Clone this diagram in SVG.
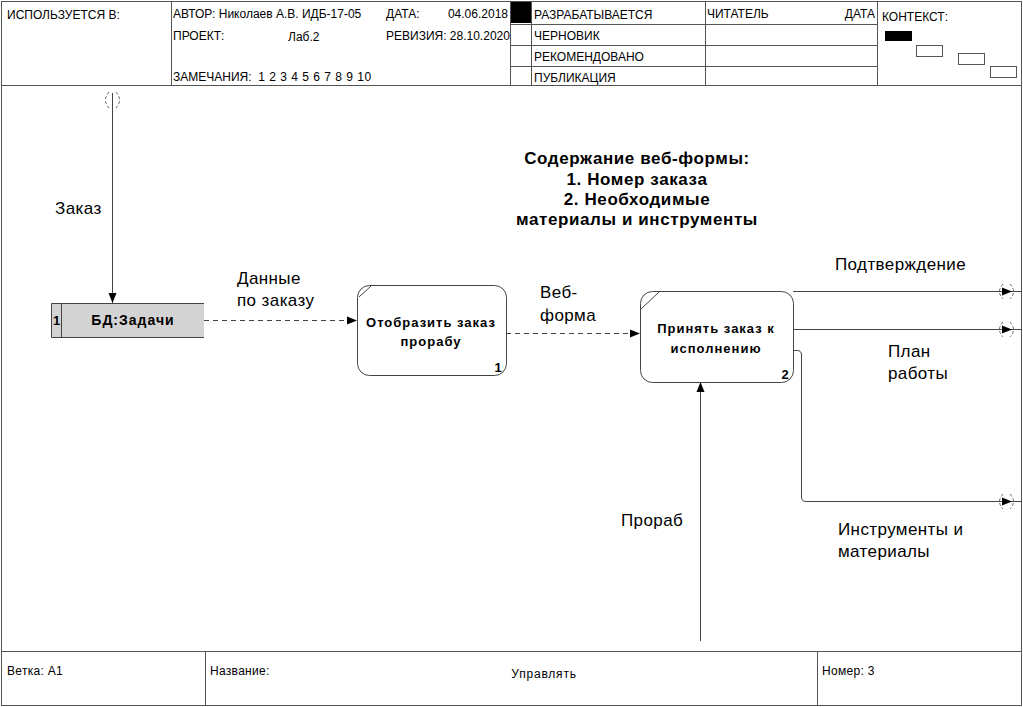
<svg xmlns="http://www.w3.org/2000/svg" width="1023" height="707" viewBox="0 0 1023 707">
<defs>
<style>
.f{fill:none;stroke:#555;stroke-width:1}
.h{font-family:"Liberation Sans",Arial,sans-serif;font-size:12px;fill:#000;white-space:pre}
.lb{font-family:"Liberation Sans",Arial,sans-serif;font-size:17px;letter-spacing:0.4px;fill:#000}
.nb{font-family:"Liberation Sans",Arial,sans-serif;font-size:13px;letter-spacing:1px;font-weight:bold;fill:#000;text-anchor:middle}
.ttl{font-family:"Liberation Sans",Arial,sans-serif;font-size:17px;letter-spacing:0.6px;font-weight:bold;fill:#000;text-anchor:middle}
.ln{fill:none;stroke:#444;stroke-width:1}
.ds{fill:none;stroke:#444;stroke-width:1;stroke-dasharray:5,4}
.tn{fill:none;stroke:#666;stroke-width:1;stroke-dasharray:3,2}
</style>
<marker id="ah" viewBox="0 0 10 10" refX="10" refY="5" markerWidth="10" markerHeight="10" markerUnits="userSpaceOnUse" orient="auto">
<path d="M0,1 L10,5 L0,9 Z" fill="#000"/>
</marker>
</defs>
<rect width="1023" height="707" fill="#fff"/>
<g id="frame">
<rect x="1.5" y="1.5" width="1020" height="704" class="f"/>
<line x1="1" y1="85.5" x2="1022" y2="85.5" class="f"/>
<line x1="171.5" y1="1" x2="171.5" y2="85" class="f"/>
<line x1="510.5" y1="1" x2="510.5" y2="85" class="f"/>
<line x1="531.5" y1="1" x2="531.5" y2="85" class="f"/>
<line x1="705.5" y1="1" x2="705.5" y2="85" class="f"/>
<line x1="877.5" y1="1" x2="877.5" y2="85" class="f"/>
<line x1="531" y1="24.5" x2="877" y2="24.5" class="f"/>
<line x1="531" y1="45.5" x2="877" y2="45.5" class="f"/>
<line x1="531" y1="66.5" x2="877" y2="66.5" class="f"/>
<line x1="510" y1="24.5" x2="531" y2="24.5" class="f"/>
<line x1="510" y1="45.5" x2="531" y2="45.5" class="f"/>
<line x1="510" y1="66.5" x2="531" y2="66.5" class="f"/>
<rect x="511" y="2" width="20" height="21" fill="#000"/>
<rect x="885" y="31" width="27" height="10" fill="#000"/>
<rect x="916.5" y="45.5" width="26" height="11" class="f"/>
<rect x="958.5" y="53.5" width="26" height="11" class="f"/>
<rect x="990.5" y="66.5" width="26" height="11" class="f"/>
<text x="7" y="19" class="h">ИСПОЛЬЗУЕТСЯ В:</text>
<text x="173" y="18" class="h">АВТОР: Николаев А.В. ИДБ-17-05</text>
<text x="386" y="18" class="h">ДАТА:</text>
<text x="508" y="18" class="h" text-anchor="end">04.06.2018</text>
<text x="173" y="40" class="h">ПРОЕКТ:</text>
<text x="288" y="41" class="h" font-size="13px">Лаб.2</text>
<text x="386" y="40" class="h">РЕВИЗИЯ: 28.10.2020</text>
<text x="173" y="81" class="h">ЗАМЕЧАНИЯ:  <tspan letter-spacing="0.5px">1 2 3 4 5 6 7 8 9 10</tspan></text>
<text x="534" y="19" class="h">РАЗРАБАТЫВАЕТСЯ</text>
<text x="534" y="40" class="h">ЧЕРНОВИК</text>
<text x="534" y="61" class="h">РЕКОМЕНДОВАНО</text>
<text x="534" y="82" class="h">ПУБЛИКАЦИЯ</text>
<text x="707" y="18" class="h">ЧИТАТЕЛЬ</text>
<text x="875" y="18" class="h" text-anchor="end">ДАТА</text>
<text x="882" y="21" class="h">КОНТЕКСТ:</text>
<line x1="1" y1="651.5" x2="1022" y2="651.5" class="f"/>
<line x1="205.5" y1="651" x2="205.5" y2="706" class="f"/>
<line x1="817.5" y1="651" x2="817.5" y2="706" class="f"/>
<text x="7" y="675" class="h" letter-spacing="0.3px">Ветка: A1</text>
<text x="210" y="675" class="h" letter-spacing="0.3px">Название:</text>
<text x="544" y="678" class="h" text-anchor="middle" letter-spacing="0.8px">Управлять</text>
<text x="822" y="675" class="h" letter-spacing="0.3px">Номер: 3</text>
</g>
<g id="title">
<text x="637" y="164" class="ttl">Содержание веб-формы:</text>
<text x="637" y="185" class="ttl">1. Номер заказа</text>
<text x="637" y="205" class="ttl">2. Необходимые</text>
<text x="637" y="225" class="ttl">материалы и инструменты</text>
</g>
<g id="connectors">
<path d="M112.5,93 L112.5,303" class="ln" marker-end="url(#ah)"/>
<path d="M109,92 Q102,100 109,108 M116,92 Q123,100 116,108" class="tn"/>
<text x="55" y="214" class="lb">Заказ</text>
<path d="M204,320.5 L357,320.5" class="ds" marker-end="url(#ah)"/>
<text x="237" y="284" class="lb">Данные</text>
<text x="237" y="306" class="lb">по заказу</text>
<path d="M506,333.5 L640,333.5" class="ds" marker-end="url(#ah)"/>
<text x="540" y="298" class="lb">Веб-</text>
<text x="540" y="321" class="lb">форма</text>
<path d="M793,291.5 L1012,291.5" class="ln" marker-end="url(#ah)"/>
<line x1="1012" y1="291.5" x2="1022" y2="291.5" class="ln"/>
<path d="M1003,284 Q996,291.5 1003,299 M1010,284 Q1017,291.5 1010,299" class="tn"/>
<text x="835" y="270" class="lb">Подтверждение</text>
<path d="M793,329.5 L1012,329.5" class="ln" marker-end="url(#ah)"/>
<line x1="1012" y1="329.5" x2="1022" y2="329.5" class="ln"/>
<path d="M1003,322 Q996,329.5 1003,337 M1010,322 Q1017,329.5 1010,337" class="tn"/>
<text x="888" y="357" class="lb">План</text>
<text x="888" y="379" class="lb">работы</text>
<path d="M793,350.5 L797,350.5 Q801.5,350.5 801.5,355 L801.5,497 Q801.5,501.5 806,501.5 L1012,501.5" class="ln" marker-end="url(#ah)"/>
<line x1="1012" y1="501.5" x2="1022" y2="501.5" class="ln"/>
<path d="M1003,494 Q996,501.5 1003,509 M1010,494 Q1017,501.5 1010,509" class="tn"/>
<text x="838" y="535" class="lb">Инструменты и</text>
<text x="838" y="557" class="lb">материалы</text>
<path d="M700.5,641 L700.5,382" class="ln" marker-end="url(#ah)"/>
<text x="621" y="526" class="lb">Прораб</text>
</g>
<g id="store1">
<rect x="51" y="303" width="153" height="34" fill="#d3d3d3"/>
<path d="M204,303.5 L51.5,303.5 L51.5,337.5 L204,337.5 M61.5,303 L61.5,337" class="ln"/>
<text x="53" y="325" class="nb" style="text-anchor:start;letter-spacing:0">1</text>
<text x="133" y="325" class="nb" style="font-size:14px">БД:Задачи</text>
</g>
<g id="node1">
<rect x="357.5" y="285.5" width="149" height="90" rx="12" ry="12" fill="#fff" stroke="#444"/>
<line x1="359" y1="297" x2="371" y2="286" class="ln"/>
<text x="431" y="327" class="nb">Отобразить заказ</text>
<text x="431" y="346" class="nb">прорабу</text>
<text x="498" y="372" class="nb" style="letter-spacing:0">1</text>
</g>
<g id="node2">
<rect x="640.5" y="291.5" width="153" height="91" rx="12" ry="12" fill="#fff" stroke="#444"/>
<line x1="641" y1="309" x2="659" y2="292" class="ln"/>
<text x="716" y="333" class="nb">Принять заказ к</text>
<text x="716" y="353" class="nb">исполнению</text>
<text x="785" y="379" class="nb" style="letter-spacing:0">2</text>
</g>
</svg>
